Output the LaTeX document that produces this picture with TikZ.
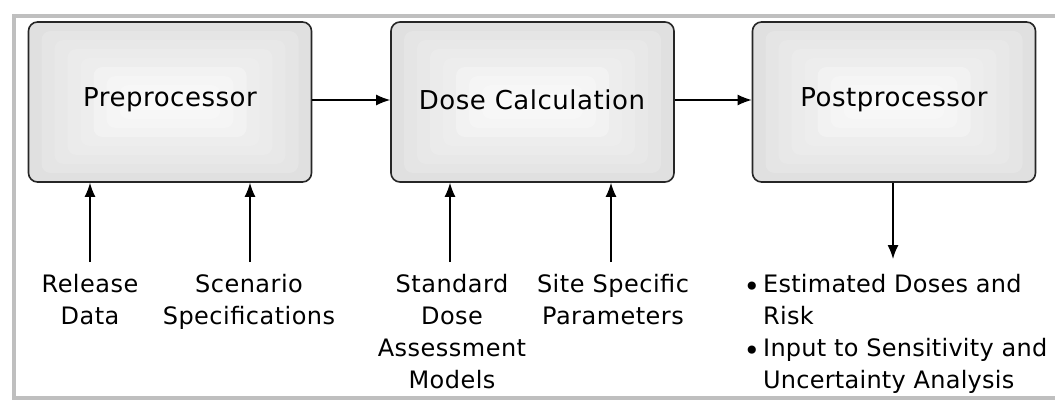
\documentclass[tikz,border=0pt]{standalone}
\usepackage{fontspec}
\setmainfont{DejaVu Sans}[LetterSpace=2]
\usetikzlibrary{arrows.meta}
\tikzset{
  procbox/.style={draw=black!85, line width=1.6pt, rounded corners=9pt,
    fill=black!12, minimum width=283pt, minimum height=160pt, inner sep=0pt,
    path picture={
      \foreach \i in {1,...,8}{
        \pgfmathtruncatemacro\c{12-1.25*\i}
        \fill[black!\c] ([shift={(\i*13pt,-\i*9pt)}]path picture bounding box.north west)
          rectangle ([shift={(-\i*13pt,\i*9pt)}]path picture bounding box.south east);
      }
    }},
  boxtext/.style={font=\fontsize{26}{32}\selectfont, inner sep=0pt},
  lbl/.style={align=center, anchor=north, inner sep=0pt, font=\fontsize{24}{32}\selectfont},
  conn/.style={line width=1.4pt, -{Latex[length=14pt,width=11pt]}},
}
\newcommand{\bul}{\llap{\fontsize{28}{28}\selectfont\raisebox{-4pt}{•}\hspace{3pt}}}
\begin{document}
\begin{tikzpicture}[x=1pt,y=-1pt]
\useasboundingbox (0,0) rectangle (1055,409);
\draw[line width=4pt, black!25] (1055,16) -- (14,16) -- (14,398) -- (1055,398);
\node[procbox] (pre) at (170,102) {};
\node[procbox] (dose) at (532.5,102) {};
\node[procbox] (post) at (894,102) {};
\node[boxtext] (pret) at (170,100) {Preprocessor};
\node[boxtext] (doset) at (532,100) {Dose Calculation};
\node[boxtext] (postt) at (894,100) {Postprocessor};
\draw[conn] (pre.east |- 0,100) -- (dose.west |- 0,100);
\draw[conn] (dose.east |- 0,100) -- (post.west |- 0,100);
\node[lbl] (rel) at (90,274) {Release\\Data};
\node[lbl] (scen) at (249,274) {Scenario\\Specifications};
\node[lbl] (std) at (452,274) {Standard\\Dose\\Assessment\\Models};
\node[lbl] (site) at (613,274) {Site Specific\\Parameters};
\draw[conn] ([yshift=12pt]rel.north -| 90,0) -- (90,0 |- pre.south);
\draw[conn] ([yshift=12pt]scen.north -| 250,0) -- (250,0 |- pre.south);
\draw[conn] ([yshift=12pt]std.north -| 450,0) -- (450,0 |- dose.south);
\draw[conn] ([yshift=12pt]site.north -| 611,0) -- (611,0 |- dose.south);
\node[lbl, align=left, anchor=north west, font=\fontsize{24}{32}\selectfont\addfontfeature{LetterSpace=1}] (out) at (763,274)
  {\bul Estimated Doses and\\Risk\\\bul Input to Sensitivity and\\Uncertainty Analysis};
\coordinate (outtop) at (893,259);
\draw[conn] (post.south -| outtop) -- (outtop);
\end{tikzpicture}
\end{document}
